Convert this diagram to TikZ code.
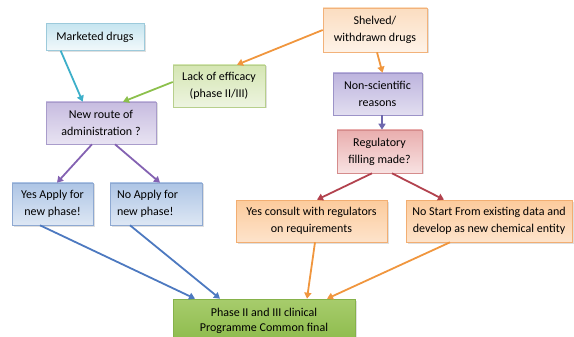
\documentclass[tikz,border=0pt]{standalone}
\usepackage{fontspec}
\setmainfont{Carlito}
\usetikzlibrary{arrows.meta,shadows}

\definecolor{mkline}{HTML}{9CCADB}
\definecolor{mktop}{HTML}{C6E5F0}
\definecolor{mkbot}{HTML}{F2F9FB}
\definecolor{lkline}{HTML}{B7CF8C}
\definecolor{lktop}{HTML}{D5E6B3}
\definecolor{lkbot}{HTML}{EDF4E0}
\definecolor{rtline}{HTML}{A99CCB}
\definecolor{rttop}{HTML}{C7BCE0}
\definecolor{rtbot}{HTML}{E8E3F2}
\definecolor{shline}{HTML}{F2B27A}
\definecolor{shtop}{HTML}{FBDDC0}
\definecolor{shbot}{HTML}{FEF3E8}
\definecolor{nsline}{HTML}{9C93C8}
\definecolor{nstop}{HTML}{BDB4DE}
\definecolor{nsbot}{HTML}{E2DEF0}
\definecolor{rgline}{HTML}{D58C8C}
\definecolor{rgtop}{HTML}{E9AEAE}
\definecolor{rgbot}{HTML}{F8E2E2}
\definecolor{apline}{HTML}{8EA9D2}
\definecolor{aptop}{HTML}{AEC5E5}
\definecolor{apbot}{HTML}{DDE7F4}
\definecolor{orline}{HTML}{F2AE72}
\definecolor{ortop}{HTML}{FCCB9C}
\definecolor{orbot}{HTML}{FDE3CB}
\definecolor{phline}{HTML}{86B24A}
\definecolor{phtop}{HTML}{A7CC6C}
\definecolor{phbot}{HTML}{8DBB4C}
\definecolor{tealarrow}{HTML}{3DAFC9}
\definecolor{greenarrow}{HTML}{8CC04C}
\definecolor{orangearrow}{HTML}{F0963E}
\definecolor{violetarrow}{HTML}{6E68AE}
\definecolor{purplearrow}{HTML}{8462B2}
\definecolor{redarrow}{HTML}{B2424E}
\definecolor{bluearrow}{HTML}{4D79C0}

\tikzset{
  box/.style args={#1/#2/#3}{draw=#1, line width=0.6pt, top color=#2, bottom color=#3,
    drop shadow={opacity=0.25, shadow xshift=1.5pt, shadow yshift=-1.5pt},
    align=center, inner sep=2pt, font=\fontsize{12}{17}\selectfont},
  arr/.style={draw=#1, line width=1.8pt, -{Triangle[length=6pt,width=7pt]}}
}

\begin{document}
\begin{tikzpicture}[x=1pt,y=-1pt]
  \useasboundingbox (0,0) rectangle (574,337);

  % top row
  \node[box={mkline/mktop/mkbot}, minimum width=98pt, minimum height=27pt] (market) at (95,37) {Marketed drugs};
  \node[box={shline/shtop/shbot}, minimum width=104pt, minimum height=44pt] (shelved) at (375,30) {Shelved/\\withdrawn drugs};
  \node[box={lkline/lktop/lkbot}, minimum width=92pt, minimum height=42pt] (lack) at (219,86) {Lack of efficacy\\(phase II/III)};
  \node[box={nsline/nstop/nsbot}, minimum width=89pt, minimum height=42pt] (nonsci) at (377.5,94) {Non-scientific\\reasons};
  \node[box={rtline/rttop/rtbot}, minimum width=110pt, minimum height=42pt] (route) at (101,123) {New route of\\administration ?};
  \node[box={rgline/rgtop/rgbot}, minimum width=85pt, minimum height=43pt] (reg) at (379.5,151.5) {Regulatory\\filling made?};

  % answers
  \node[box={apline/aptop/apbot}, minimum width=81pt, minimum height=42pt] (yes) at (52.5,204) {Yes Apply for\\new phase!};
  \node[box={apline/aptop/apbot}, minimum width=92pt, minimum height=42pt, text width=78pt, align=flush left] (no) at (156,204) {No Apply for\\new phase!};
  \node[box={orline/ortop/orbot}, minimum width=151pt, minimum height=42pt] (consult) at (311.5,221) {Yes consult with regulators\\on requirements};
  \node[box={orline/ortop/orbot}, minimum width=166pt, minimum height=42pt] (start) at (489,221) {No Start From existing data and\\develop as new chemical entity};

  % final
  \node[box={phline/phtop/phbot}, minimum width=182pt, minimum height=43pt, font=\fontsize{12}{15}\selectfont] (phase) at (264,320.5) {Phase II and III clinical\\Programme Common final};

  % arrows
  \draw[arr=tealarrow] ([xshift=15pt]market.south west) -- ([xshift=37pt]route.north west);
  \draw[arr=greenarrow] ([yshift=4pt]lack.west) -- ([xshift=22pt]route.north);
  \draw[arr=orangearrow] (shelved.west) -- ([xshift=18pt]lack.north);
  \draw[arr=orangearrow] ([xshift=2pt]shelved.south) -- ([xshift=5pt]nonsci.north);
  \draw[arr=violetarrow] ([xshift=4.5pt]nonsci.south) -- ([xshift=2.5pt]reg.north);
  \draw[arr=purplearrow] ([xshift=-9pt]route.south) -- ([xshift=4.5pt]yes.north);
  \draw[arr=purplearrow] ([xshift=14pt]route.south) -- ([xshift=4pt]no.north);
  \draw[arr=redarrow] ([xshift=-7.5pt]reg.south) -- ([xshift=5.5pt]consult.north);
  \draw[arr=redarrow] ([xshift=12.5pt]reg.south) -- ([xshift=-45pt]start.north);
  \draw[arr=bluearrow] ([xshift=-12.5pt]yes.south) -- ([xshift=-69pt]phase.north);
  \draw[arr=bluearrow] ([xshift=-26pt]no.south) -- ([xshift=-44pt]phase.north);
  \draw[arr=orangearrow] ([xshift=3.5pt]consult.south) -- ([xshift=43pt]phase.north);
  \draw[arr=orangearrow] ([xshift=-39pt]start.south) -- ([xshift=63pt]phase.north);
\end{tikzpicture}
\end{document}
